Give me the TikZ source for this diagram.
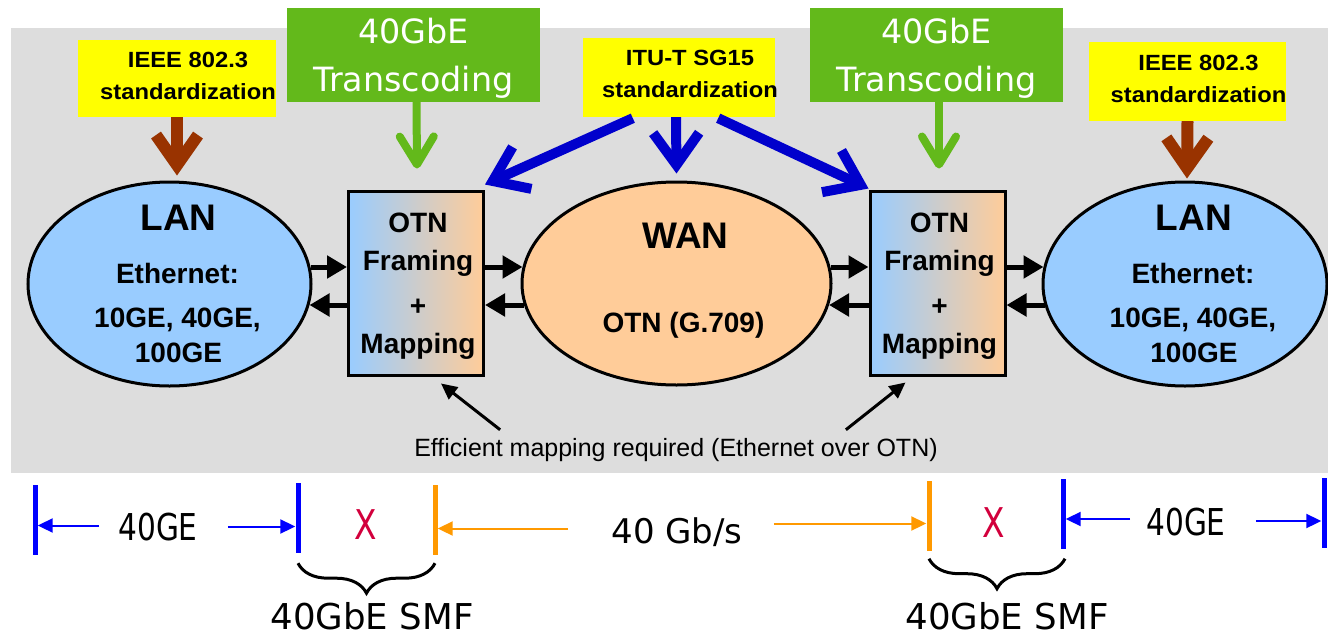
\documentclass[tikz,border=0pt]{standalone}
\usepackage{fontspec}
\setmainfont{Liberation Sans}
\newfontfamily\arialw{Liberation Sans}[FakeStretch=1.08]
\newfontfamily\tahoma{DejaVu Sans}
\newfontfamily\tahomac{DejaVu Sans}[FakeStretch=0.8]
\usetikzlibrary{arrows.meta,calc,decorations.pathreplacing,shapes.geometric}

\definecolor{bggray}{HTML}{DDDDDD}
\definecolor{lanblue}{HTML}{99CCFF}
\definecolor{wanorange}{HTML}{FFCC99}
\definecolor{stdyellow}{HTML}{FFFF00}
\definecolor{trgreen}{HTML}{63B91B}
\definecolor{ieeebrown}{HTML}{993300}
\definecolor{itublue}{HTML}{0000CC}
\definecolor{barblue}{HTML}{0000FF}
\definecolor{barorange}{HTML}{FF9900}
\definecolor{xred}{HTML}{D2003C}

\newcommand{\fsz}[2]{\fontsize{#1}{#2}\selectfont}

\tikzset{
  stdbox/.style={fill=stdyellow, inner sep=0pt},
  stdtxt/.style={inner sep=0pt, align=center, text depth=0pt,
    font=\arialw\fsz{22}{32}\bfseries},
  trbox/.style={fill=trgreen, text=white, inner sep=0pt, align=center, text depth=0pt,
    minimum width=253pt, minimum height=94pt, font=\tahoma\fsz{33.4}{48}},
  lanell/.style={ellipse, draw, line width=3pt, fill=lanblue, inner sep=0pt},
  wanell/.style={ellipse, draw, line width=3pt, fill=wanorange, inner sep=0pt},
  otnbox/.style={draw, line width=3pt, left color=lanblue, right color=wanorange,
    minimum width=135pt, minimum height=184pt, inner sep=0pt},
  bigtxt/.style={inner sep=0pt, text depth=0pt, font=\fsz{37}{37}\bfseries},
  midtxt/.style={inner sep=0pt, text depth=0pt, font=\fsz{28}{28}\bfseries},
  efftxt/.style={inner sep=0pt, text depth=0pt, font=\fsz{25}{25}},
  conn/.style={line width=5pt, -{Triangle[length=20pt,width=22pt]}},
  ptr/.style={line width=3pt, -{Triangle[length=16pt,width=15pt]}},
  bluearr/.style={line width=10pt, itublue, -{Straight Barb[length=32pt,width=46pt]}},
  greenarr/.style={line width=8pt, trgreen, -{Straight Barb[round,length=28pt,width=34pt]}},
  brownarr/.style={line width=12pt, ieeebrown, -{Straight Barb[length=30pt,width=42pt]}},
  bluebar/.style={fill=barblue, minimum width=5pt, minimum height=70pt, inner sep=0pt},
  orangebar/.style={fill=barorange, minimum width=5pt, minimum height=70pt, inner sep=0pt},
  lowtxt/.style={inner sep=0pt, text depth=0pt, font=\tahomac\fsz{37}{37}},
  xtxt/.style={inner sep=0pt, text depth=0pt, text=xred, font=\tahomac\fsz{41}{41}},
  gbstxt/.style={inner sep=0pt, text depth=0pt, font=\tahoma\fsz{34}{34}},
  smftxt/.style={inner sep=0pt, text depth=0pt, font=\tahoma\fsz{35.6}{36}},
  blarr/.style={line width=2pt, barblue, -{Triangle[length=15pt,width=14pt]}},
  orarr/.style={line width=2pt, barorange, -{Triangle[length=15pt,width=14pt]}},
  bracestyle/.style={line width=3pt, decorate, decoration={brace, amplitude=30pt}},
}

\begin{document}
\begin{tikzpicture}[x=1pt,y=-1pt]
\useasboundingbox (0,0) rectangle (1328,640);
\fill[bggray] (11,28) rectangle (1328,473);

% top labels
\node[stdbox, minimum width=198pt, minimum height=77pt] (stdL) at (177,78.5) {};
\node[stdbox, minimum width=192pt, minimum height=79pt] (itu) at (679,77.5) {};
\node[stdbox, minimum width=197pt, minimum height=79pt] (stdR) at (1187.5,81.5) {};
\node[stdtxt] at ($(stdL)+(11,-2.5)$) {IEEE 802.3\\standardization};
\node[stdtxt] at ($(itu)+(11,-3.5)$) {ITU-T SG15\\standardization};
\node[stdtxt] at ($(stdR)+(11,-2.5)$) {IEEE 802.3\\standardization};
\node[trbox] (trL) at (413.5,55) {40GbE\\Transcoding};
\node[trbox] (trR) at (936.5,55) {40GbE\\Transcoding};

% main shapes
\node[lanell, minimum width=283pt, minimum height=204pt] (lanL) at (169.5,284) {};
\node[wanell, minimum width=309pt, minimum height=203pt] (wan) at (676.5,283.5) {};
\node[lanell, minimum width=284pt, minimum height=204pt] (lanR) at (1185,284) {};
\node[otnbox] (otnL) at (416,283) {};
\node[otnbox] (otnR) at (937.5,283) {};

% texts in shapes
\foreach \s in {lanL,lanR}{
  \node[bigtxt] at ($(\s)+(9,-66)$) {LAN};
  \node[midtxt] at ($(\s)+(8,-11)$) {Ethernet:};
  \node[midtxt] at ($(\s)+(8,34)$) {10GE, 40GE,};
  \node[midtxt] at ($(\s)+(9,69)$) {100GE};
}
\foreach \s in {otnL,otnR}{
  \node[midtxt] at ($(\s)+(2,-60)$) {OTN};
  \node[midtxt] at ($(\s)+(2,-23)$) {Framing};
  \node[midtxt] at ($(\s)+(2,24)$) {+};
  \node[midtxt] at ($(\s)+(2,60)$) {Mapping};
}
\node[bigtxt] at ($(wan)+(9,-48)$) {WAN};
\node[midtxt] at ($(wan)+(7,38.5)$) {OTN (G.709)};

\node[efftxt] (eff) at (676,447) {Efficient mapping required (Ethernet over OTN)};

% connectors between shapes
\draw[conn] ($(lanL.east)+(-2,-17)$) -- ($(otnL.west)+(0,-16)$);
\draw[conn] ($(otnL.west)+(0,22)$) -- ($(lanL.east)+(-3,21)$);
\draw[conn] ($(otnL.east)+(0,-16)$) -- ($(wan.west)+(2,-16.5)$);
\draw[conn] ($(wan.west)+(3.5,21.5)$) -- ($(otnL.east)+(0,22)$);
\draw[conn] ($(wan.east)+(-2,-16.5)$) -- ($(otnR.west)+(0,-16)$);
\draw[conn] ($(otnR.west)+(0,22)$) -- ($(wan.east)+(-3.5,21.5)$);
\draw[conn] ($(otnR.east)+(0,-16)$) -- ($(lanR.west)+(2,-17)$);
\draw[conn] ($(lanR.west)+(3,21)$) -- ($(otnR.east)+(0,22)$);

% pointers
\draw[ptr] ($(eff.north west)+(86,-8)$) -- ($(otnL.south)+(25,7)$);
\draw[ptr] ($(eff.north east)+(-92,-8)$) -- ($(otnR.south)+(-32,6)$);

% standardization arrows
\draw[brownarr] (stdL.south) -- ($(lanL.north)+(7.5,-5)$);
\draw[brownarr] (stdR.south) -- ($(lanR.north)+(2,-2)$);
\draw[greenarr] ($(trL.south)+(3,0)$) -- ($(otnL.north)+(1,-21)$);
\draw[greenarr] ($(trR.south)+(2.5,0)$) -- ($(otnR.north)+(1.5,-21)$);
\draw[bluearr] ($(itu.south west)+(50,1)$) -- ($(otnL.north east)+(0,-5)$);
\draw[bluearr] ($(itu.south)+(-3,0)$) -- ($(wan.north)+(0,-7)$);
\draw[bluearr] ($(itu.south east)+(-57,1)$) -- ($(otnR.north west)+(0,-1)$);

% bottom bars
\node[bluebar] (b1) at (35,520) {};
\node[bluebar] (b2) at (298,518) {};
\node[orangebar] (o1) at (435,520) {};
\node[orangebar] (o2) at (929,516) {};
\node[bluebar] (b3) at (1063,513.5) {};
\node[bluebar] (b4) at (1324,512.5) {};

\node[lowtxt] (g1) at (158,526.5) {40GE};
\node[xtxt] (x1) at (366,525) {X};
\node[gbstxt] (gbs) at (677,530.5) {40 Gb/s};
\node[xtxt] (x2) at (994,523) {X};
\node[lowtxt] (g2) at (1186,522) {40GE};

\draw[blarr] ($(g1.west)+(-19,-1)$) -- (b1.east |- 0,525.5);
\draw[blarr] ($(g1.east)+(30,0)$) -- (b2.west |- 0,526.5);
\draw[orarr] ($(gbs.west)+(-43,-2)$) -- (o1.east |- 0,528.5);
\draw[orarr] ($(gbs.east)+(31,-7)$) -- (o2.west |- 0,523.5);
\draw[blarr] ($(g2.west)+(-16,-3)$) -- (b3.east |- 0,519);
\draw[blarr] ($(g2.east)+(30,-1)$) -- (b4.west |- 0,521);

% braces
\draw[bracestyle] ($(o1.south)+(0,8)$) -- ($(b2.south |- o1.south)+(0,8)$);
\draw[bracestyle] ($(b3.south)+(2,10)$) -- ($(o2.south |- b3.south)+(0,10)$);
\node[smftxt] (smfL) at (372,616) {40GbE SMF};
\node[smftxt] (smfR) at (1007,616) {40GbE SMF};
\end{tikzpicture}
\end{document}
